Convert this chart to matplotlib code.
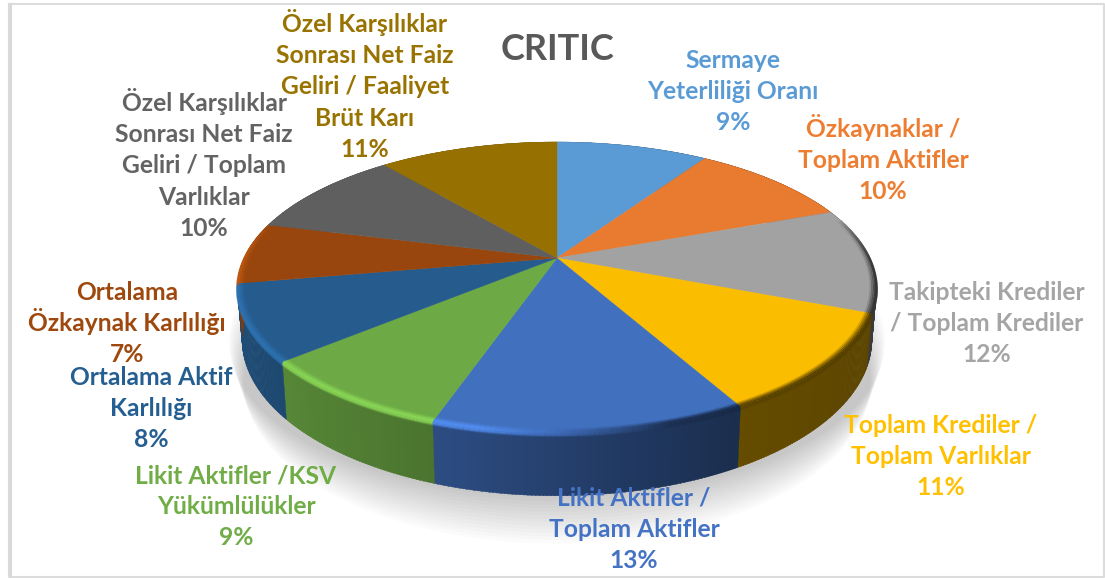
import matplotlib
matplotlib.use("Agg")
import matplotlib.pyplot as plt
import numpy as np
from matplotlib.collections import LineCollection

names = ["Sermaye\nYeterliliği Oranı", "Özkaynaklar /\nToplam Aktifler",
         "Takipteki Krediler\n/ Toplam Krediler", "Toplam Krediler /\nToplam Varlıklar",
         "Likit Aktifler /\nToplam Aktifler", "Likit Aktifler /KSV\nYükümlülükler",
         "Ortalama Aktif\nKarlılığı", "Ortalama\nÖzkaynak Karlılığı",
         "Özel Karşılıklar\nSonrası Net Faiz\nGeliri / Toplam\nVarlıklar",
         "Özel Karşılıklar\nSonrası Net Faiz\nGeliri / Faaliyet\nBrüt Karı"]
shares = [9.3, 10.0, 11.7, 11.0, 13.2, 8.6, 8.4, 6.8, 10.0, 11.0]
colors = ["#5B9BD5", "#E97B31", "#A2A2A2", "#FBBD00", "#4170BF",
          "#6DAA45", "#255B8D", "#98460D", "#5F5F5F", "#967000"]
text_colors = ["#5B9BD5", "#ED7D31", "#A5A5A5", "#FFC000", "#4472C4",
               "#70AD47", "#255E91", "#9E480E", "#636363", "#997300"]

# label centre x and first baseline, in pixels
label_x = [733, 883, 987, 941, 634, 236, 151, 127, 204, 365]
label_y = [68, 137, 300, 433, 506, 483, 385, 300, 111, 32]
line_h = 31.2

# perspective of the pie
cx, cy = 557, 258
A, B, p = 313, 139.5, 0.203
H = 50


def project(theta, r=1.0, depth=0.0):
    x = r * np.sin(theta)
    y = r * np.cos(theta)
    w = 1 + p * y
    sx = cx + A * (1 - 0.015 * depth) * x / w
    sy = cy - B * y / w + depth * H / w
    return sx, sy


def rgb(c):
    return np.array(matplotlib.colors.to_rgb(c))


fig = plt.figure(figsize=(11.05, 5.78), dpi=100)
ax = fig.add_axes([0, 0, 1, 1])
ax.set_xlim(0, 1105)
ax.set_ylim(578, 0)
ax.axis("off")

# frame
ax.plot([9, 1104, 1104, 9, 9], [4, 4, 577, 577, 4], color="#DCDCDC", lw=1.5, zorder=1)
ax.plot([9.5, 9.5], [4, 577], color="#D9D9D9", lw=2.2, zorder=1)

edges = np.cumsum([0] + shares) / sum(shares) * 2 * np.pi

# soft shadow
t = np.linspace(0, 2 * np.pi, 300)
for k in range(14):
    sx, sy = project(t, 1.0, 1 + k * 0.04)
    sx = cx + (sx - cx) * (1 + 0.003 * (14 - k))
    ax.fill(sx, sy + 2 + k * 1.0, color="black", alpha=0.016, lw=0, zorder=2)

# side wall
shade_x = [-1, -0.3, 0.5, 1]
shade_f = [0.85, 0.68, 0.40, 0.36]
for i, c in enumerate(colors):
    n = max(int((edges[i + 1] - edges[i]) / 0.01), 2)
    th = np.linspace(edges[i], edges[i + 1], n + 1)
    for a, b in zip(th[:-1], th[1:]):
        tt = np.array([a, b + 0.003])
        x1, y1 = project(tt)
        x2, y2 = project(tt, depth=1)
        f = np.interp(np.sin(a), shade_x, shade_f)
        ax.fill([x1[0], x1[1], x2[1], x2[0]], [y1[0], y1[1], y2[1], y2[0]],
                color=rgb(c) * f, lw=0.3, zorder=3)

# top face
for i, c in enumerate(colors):
    th = np.linspace(edges[i], edges[i + 1], 80)
    sx, sy = project(th)
    ax.fill(np.r_[cx, sx], np.r_[cy, sy], facecolor=c, edgecolor=c, lw=0.3, zorder=4)

# bevel along the rim, light on the left and dark on the right
layers = [(0.982, 0, 0.2), (0.987, 0, 0.45), (0.992, 0, 0.7), (0.997, 0, 1.0),
          (1.0, 1, 0.9), (1.0, 2, 0.6), (1.0, 3, 0.3)]
for r, dy, weight in layers:
    for i, c in enumerate(colors):
        th = np.linspace(edges[i], edges[i + 1], 60)
        sx, sy = project(th, r)
        pts = np.column_stack([sx, sy + dy])
        segs = np.stack([pts[:-1], pts[1:]], axis=1)
        seg_c = []
        for a in th[:-1]:
            x, y = np.sin(a), np.cos(a)
            strength = np.clip((0.3 - y) / 0.5, 0, 1) * weight
            light = np.clip(rgb(c) * 1.28, 0, 1)
            dark = rgb(c) * np.interp(x, shade_x, shade_f) * 0.9
            u = np.clip((x + 0.2) / 0.5, 0, 1)
            col = (1 - u) * light + u * dark
            seg_c.append(list(col) + [strength * (0.85 + 0.15 * u)])
        ax.add_collection(LineCollection(segs, colors=seg_c, linewidths=1.6, zorder=5))

# labels
for name, s, x, y, c in zip(names, shares, label_x, label_y, text_colors):
    lines = name.split("\n") + [f"{s:.0f}%"]
    for j, line in enumerate(lines):
        ax.text(x, y + j * line_h, line, ha="center", va="baseline", color=c, fontsize=17.7,
                fontfamily="Lato", fontweight="bold", zorder=6)

ax.text(557, 49, "CRITIC", ha="center", va="center", color="#595959", fontsize=26,
        fontfamily="Lato", fontweight="bold", zorder=6)

fig.savefig("out.png", dpi=100)
